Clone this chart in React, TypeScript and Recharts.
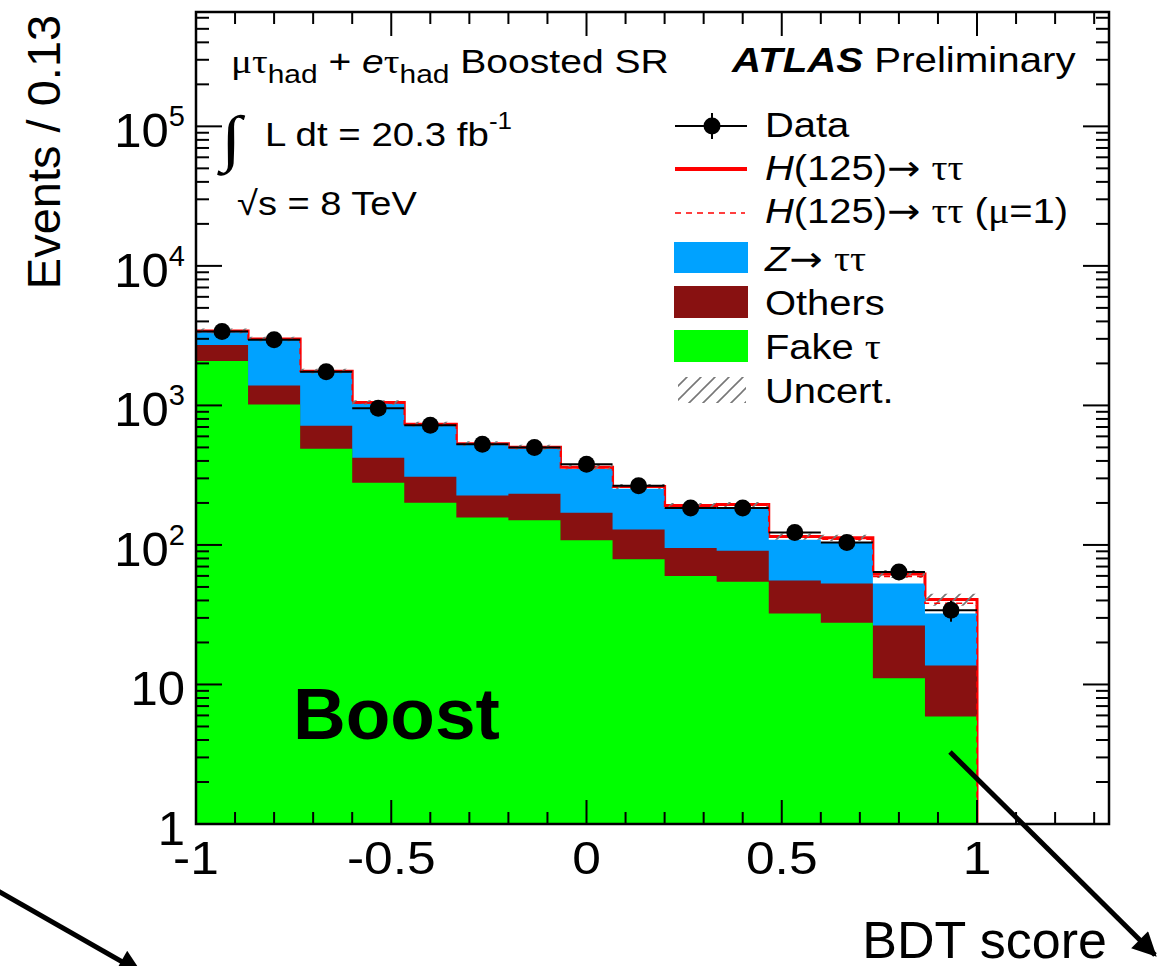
import React from "react";
import {
  ComposedChart,
  Area,
  Line,
  Scatter,
  ErrorBar,
  XAxis,
  YAxis,
  Legend,
} from "recharts";

// BDT score binning (15 bins of 2/15)
const binEdges = [
  -1, -0.8667, -0.7333, -0.6, -0.4667, -0.3333, -0.2, -0.0667, 0.0667, 0.2,
  0.3333, 0.4667, 0.6, 0.7333, 0.8667, 1,
];

// background components per bin (events / 0.13)
const fakeTau = [2085, 1016, 490, 279, 201, 157, 150, 108, 79, 60, 54.5, 32.3, 27.7, 11.1, 5.9];
const others = [628, 372, 225, 143, 107, 69, 83, 62, 50, 35, 36.5, 23.3, 25.3, 15.4, 7.8];
const zTauTau = [632, 1558, 1015, 604, 410, 294, 257, 180, 124, 89, 96, 53.4, 50.5, 26.5, 18.5];

// signal on top of the stack (best fit) and for mu = 1
const higgs = [70, 45, 30, 22, 16, 12, 12, 11, 9, 8, 8, 6, 9, 9, 8.5];
const higgsMu1 = [50, 32, 21, 16, 11, 9, 9, 8, 6.5, 5.5, 5.5, 4.5, 6.5, 6.5, 6];

// observed data and total uncertainty
const dataCounts = [3380, 2950, 1740, 955, 720, 527, 500, 378, 266, 184, 184, 123, 104, 64, 34];
const uncert = [140, 120, 70, 40, 30, 22, 20, 15, 11, 8, 8, 6, 6, 4, 4];

const xMajorTicks = [-1, -0.5, 0, 0.5, 1];
const xMinorTicks = [
  -0.9, -0.8, -0.7, -0.6, -0.4, -0.3, -0.2, -0.1, 0.1, 0.2, 0.3, 0.4, 0.6, 0.7,
  0.8, 0.9, 1.1, 1.2, 1.3,
];
const yMajorTicks = [1, 10, 100, 1000, 10000, 100000];
const yMinorSteps = [2, 3, 4, 5, 6, 7, 8, 9];

const X_DOMAIN = [-1, 1.338];
const Y_DOMAIN = [1, 660000];
const yMinorTicks = yMajorTicks
  .flatMap((d) => yMinorSteps.map((m) => m * d))
  .filter((v) => v < Y_DOMAIN[1]);

const W = 1172;
const H = 966;
const PLOT = { left: 196, top: 12, right: 1109, bottom: 824 };
const Y_AXIS_W = 100;
const X_AXIS_H = 60;

const BLUE = "#00a2ff";
const DARKRED = "#881111";
const GREEN = "#00ff00";
const RED = "#ff0000";
const FONT = "'Liberation Sans', Arial, Helvetica, sans-serif";
const GREEK = "'Liberation Serif', 'Times New Roman', serif";
const ARROW = "'DejaVu Sans', sans-serif";

// step table: one row per bin edge, the last bin repeated at x = 1, then a drop to the floor
const rows: any[] = binEdges.map((x, i) => {
  const j = Math.min(i, fakeTau.length - 1);
  const bkg = fakeTau[j] + others[j] + zTauTau[j];
  const sig = bkg + higgs[j];
  return {
    x,
    fake: fakeTau[j],
    fakeOthers: fakeTau[j] + others[j],
    bkg,
    sig,
    sigMu1: bkg + higgsMu1[j],
    band: [sig - uncert[j], sig + uncert[j]],
  };
});
rows.push({ x: 1, fake: 1, fakeOthers: 1, bkg: 1, sig: 1, sigMu1: 1, band: null });

const points = dataCounts.map((n, j) => ({
  x: (binEdges[j] + binEdges[j + 1]) / 2,
  y: n,
  ex: (binEdges[j + 1] - binEdges[j]) / 2,
  ey: Math.sqrt(n),
}));

// bottom tick (inward), mirrored tick on top edge, label for majors
const XTick = ({ x, y, payload }: any) => {
  const major = xMajorTicks.includes(payload.value);
  const len = major ? 24 : 12;
  return (
    <g>
      <line x1={x} x2={x} y1={y} y2={y - len} stroke="#000" strokeWidth={2} />
      <line x1={x} x2={x} y1={PLOT.top} y2={PLOT.top + len} stroke="#000" strokeWidth={2} />
      {major && (
        <g transform={`translate(${x},${y}) scale(1.12,1)`}>
          <text x={0} y={50} textAnchor="middle" fontSize={46} fontFamily={FONT} fill="#000">
            {String(payload.value)}
          </text>
        </g>
      )}
    </g>
  );
};

const YTick = ({ x, y, payload }: any) => {
  const major = yMajorTicks.includes(payload.value);
  const len = major ? 26 : 13;
  const exp = Math.round(Math.log10(payload.value));
  return (
    <g>
      <line x1={x} x2={x + len} y1={y} y2={y} stroke="#000" strokeWidth={2} />
      <line x1={PLOT.right} x2={PLOT.right - len} y1={y} y2={y} stroke="#000" strokeWidth={2} />
      {major && (
        <text x={x - 11} y={y + 21} textAnchor="end" fontSize={49} fontFamily={FONT} fill="#000">
          {exp === 0 ? "1" : "10"}
          {exp > 1 && (
            <tspan dy={-21} fontSize={29}>
              {exp}
            </tspan>
          )}
        </text>
      )}
    </g>
  );
};

const Dot = (p: any) => <circle cx={p.cx} cy={p.cy} r={8.5} fill="#000" />;

const Stretch = ({ x, y, sx = 1.14, size = 35, children, anchor = "start", weight = "normal", family = FONT, italic = false }: any) => (
  <g transform={`translate(${x},${y}) scale(${sx},1)`}>
    <text x={0} y={0} fontSize={size} fontFamily={family} fill="#000" textAnchor={anchor} fontWeight={weight} fontStyle={italic ? "italic" : "normal"}>
      {children}
    </text>
  </g>
);

const Arr = () => <tspan fontFamily={ARROW}>→</tspan>;

const LegendBox = () => (
  <svg width={450} height={320} style={{ overflow: "visible" }}>
    <defs>
      <pattern id="hatchLeg" width="14" height="14" patternUnits="userSpaceOnUse">
        <path d="M0,14 L14,0 M-3.5,3.5 L3.5,-3.5 M10.5,17.5 L17.5,10.5" stroke="#777" strokeWidth={1.6} />
      </pattern>
    </defs>
    <g transform="translate(-660,-100)">
      {/* Data */}
      <line x1={675} x2={747} y1={126} y2={126} stroke="#000" strokeWidth={2} />
      <line x1={712} x2={712} y1={113} y2={139} stroke="#000" strokeWidth={2} />
      <circle cx={712} cy={126} r={8.5} fill="#000" />
      <Stretch x={765} y={137}>Data</Stretch>
      {/* H */}
      <line x1={675} x2={747} y1={169} y2={169} stroke={RED} strokeWidth={4} />
      <Stretch x={765} y={180}>
        <tspan fontStyle="italic">H</tspan>(125)<Arr /> <tspan fontFamily={GREEK}>ττ</tspan>
      </Stretch>
      {/* H mu=1 */}
      <line x1={675} x2={745} y1={213} y2={213} stroke={RED} strokeWidth={1.5} strokeDasharray="6 5" />
      <Stretch x={765} y={223}>
        <tspan fontStyle="italic">H</tspan>(125)<Arr /> <tspan fontFamily={GREEK}>ττ</tspan> (
        <tspan fontFamily={GREEK}>μ</tspan>=1)
      </Stretch>
      {/* Z */}
      <rect x={674} y={242} width={74} height={31} fill={BLUE} />
      <Stretch x={765} y={271}>
        <tspan fontStyle="italic">Z</tspan><Arr /> <tspan fontFamily={GREEK}>ττ</tspan>
      </Stretch>
      <rect x={674} y={286} width={74} height={32} fill={DARKRED} />
      <Stretch x={765} y={315}>Others</Stretch>
      <rect x={674} y={330} width={74} height={32} fill={GREEN} />
      <Stretch x={765} y={359}>
        Fake <tspan fontFamily={GREEK}>τ</tspan>
      </Stretch>
      <rect x={678} y={377} width={68} height={26} fill="url(#hatchLeg)" />
      <Stretch x={765} y={403}>Uncert.</Stretch>
    </g>
  </svg>
);

export default function App() {
  return (
    <div style={{ position: "absolute", left: 0, top: 0, width: W, height: H, background: "#fff" }}>
      <ComposedChart
        width={W}
        height={H}
        data={rows}
        margin={{
          top: PLOT.top,
          right: W - PLOT.right,
          bottom: H - PLOT.bottom - X_AXIS_H,
          left: PLOT.left - Y_AXIS_W,
        }}
      >
        <defs>
          <pattern id="hatch" width="14" height="14" patternUnits="userSpaceOnUse">
            <path d="M0,14 L14,0 M-3.5,3.5 L3.5,-3.5 M10.5,17.5 L17.5,10.5" stroke="#777" strokeWidth={1.6} />
          </pattern>
        </defs>

        <XAxis
          xAxisId="x"
          dataKey="x"
          type="number"
          domain={X_DOMAIN}
          allowDataOverflow
          ticks={[...xMajorTicks, ...xMinorTicks]}
          interval={0}
          height={X_AXIS_H}
          tickLine={false}
          axisLine={false}
          tickSize={0}
          tickMargin={0}
          tick={(p: any) => <XTick {...p} />}
        />
        <YAxis
          yAxisId="y"
          type="number"
          scale="log"
          domain={Y_DOMAIN}
          allowDataOverflow
          ticks={[...yMajorTicks, ...yMinorTicks]}
          interval={0}
          width={Y_AXIS_W}
          tickLine={false}
          axisLine={false}
          tickSize={0}
          tickMargin={0}
          tick={(p: any) => <YTick {...p} />}
        />

        {/* stacked histograms, drawn largest first */}
        <Area xAxisId="x" yAxisId="y" type="stepAfter" dataKey="sig" baseValue={1} fill="#fff" fillOpacity={1} stroke={RED} strokeWidth={3} isAnimationActive={false} />
        <Area xAxisId="x" yAxisId="y" type="stepAfter" dataKey="bkg" baseValue={1} fill={BLUE} fillOpacity={1} stroke="none" isAnimationActive={false} />
        <Area xAxisId="x" yAxisId="y" type="stepAfter" dataKey="fakeOthers" baseValue={1} fill={DARKRED} fillOpacity={1} stroke="none" isAnimationActive={false} />
        <Area xAxisId="x" yAxisId="y" type="stepAfter" dataKey="fake" baseValue={1} fill={GREEN} fillOpacity={1} stroke="none" isAnimationActive={false} />
        <Line xAxisId="x" yAxisId="y" type="stepAfter" dataKey="sigMu1" stroke={RED} strokeWidth={1.6} strokeDasharray="6 5" dot={false} isAnimationActive={false} />
        <Area xAxisId="x" yAxisId="y" type="stepAfter" dataKey="band" fill="url(#hatch)" fillOpacity={1} stroke="none" isAnimationActive={false} />

        <Scatter xAxisId="x" yAxisId="y" data={points} dataKey="y" shape={Dot} isAnimationActive={false}>
          <ErrorBar dataKey="ex" direction="x" width={0} stroke="#000" strokeWidth={2} isAnimationActive={false} />
          <ErrorBar dataKey="ey" direction="y" width={0} stroke="#000" strokeWidth={2} isAnimationActive={false} />
        </Scatter>

        <Legend
          layout="horizontal"
          verticalAlign="middle"
          align="center"
          wrapperStyle={{ left: 660, top: 100, width: 450, height: 320 }}
          content={() => <LegendBox />}
        />
      </ComposedChart>

      {/* frame and annotations */}
      <svg
        width={W}
        height={H}
        style={{ position: "absolute", left: 0, top: 0, pointerEvents: "none", overflow: "hidden" }}
      >
        <defs>
          <marker id="head" viewBox="0 0 10 10" refX="9" refY="5" markerWidth="30" markerHeight="24" markerUnits="userSpaceOnUse" orient="auto">
            <path d="M0,0 L10,5 L0,10 Z" fill="#000" />
          </marker>
        </defs>

        <rect
          x={PLOT.left}
          y={PLOT.top}
          width={PLOT.right - PLOT.left}
          height={PLOT.bottom - PLOT.top}
          fill="none"
          stroke="#000"
          strokeWidth={2.5}
        />

        <text transform="translate(60,152) rotate(-90)" textAnchor="middle" fontSize={47} fontFamily={FONT} fill="#000">
          Events / 0.13
        </text>

        <Stretch x={231} y={73} size={34} sx={1.15}>
          <tspan fontFamily={GREEK}>μτ</tspan>
          <tspan dy={10} fontSize={26}>had</tspan>
          <tspan dy={-10}> + </tspan>
          <tspan fontStyle="italic">e</tspan>
          <tspan fontFamily={GREEK}>τ</tspan>
          <tspan dy={10} fontSize={26}>had</tspan>
          <tspan dy={-10}> Boosted SR</tspan>
        </Stretch>
        <Stretch x={732} y={72} size={35} sx={1.15}>
          <tspan fontWeight="bold" fontStyle="italic">ATLAS</tspan>
          <tspan> Preliminary</tspan>
        </Stretch>

        <Stretch x={221} y={159} size={62} sx={1.2} family={GREEK} italic>
          ∫
        </Stretch>
        <Stretch x={265} y={146} size={34} sx={1.13}>
          L dt = 20.3 fb<tspan dy={-17} fontSize={23}>-1</tspan>
        </Stretch>
        <Stretch x={237} y={215} size={34} sx={1.12}>
          √s = 8 TeV
        </Stretch>

        <text x={293} y={739} fontSize={73} fontWeight="bold" fontFamily={FONT} fill="#000">
          Boost
        </text>
        <text x={1107} y={958} textAnchor="end" fontSize={52} fontFamily={FONT} fill="#000">
          BDT score
        </text>

        <line x1={950} y1={752} x2={1155} y2={955} stroke="#000" strokeWidth={5} markerEnd="url(#head)" />
        <line x1={-2} y1={891} x2={140} y2={972} stroke="#000" strokeWidth={5} markerEnd="url(#head)" />
      </svg>
    </div>
  );
}
